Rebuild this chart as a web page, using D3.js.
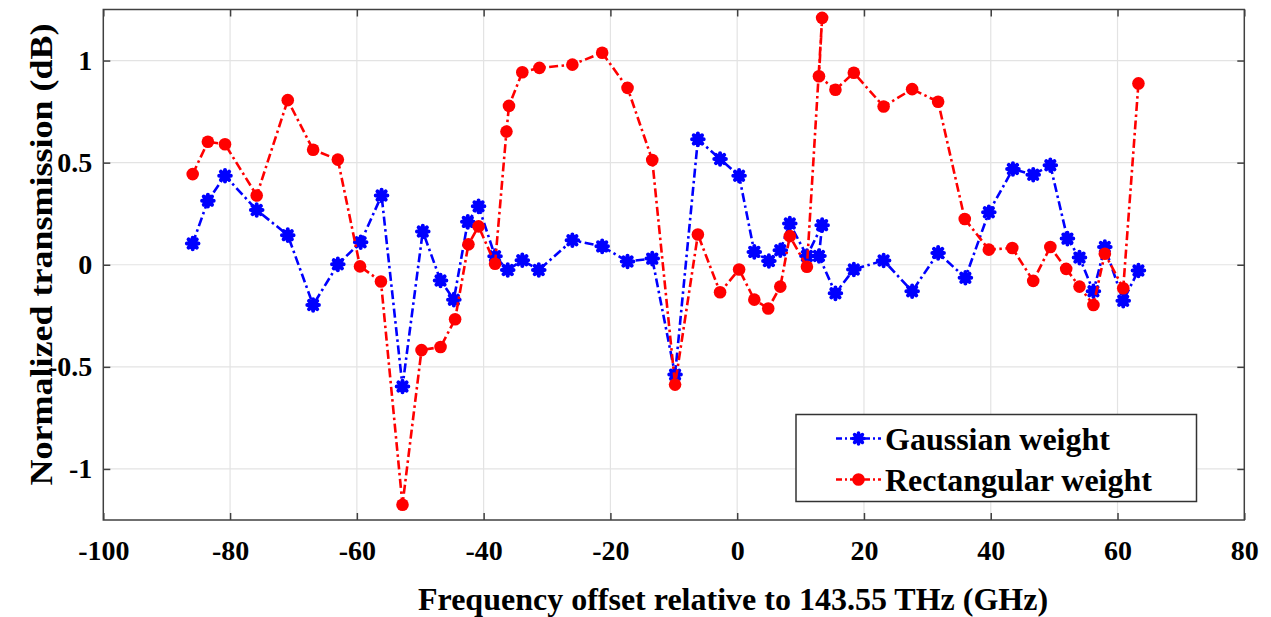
<!DOCTYPE html>
<html>
<head>
<meta charset="utf-8">
<script src="https://cdn.jsdelivr.net/npm/d3@7"></script>
<style>
  body { margin: 0; background: #fff; }
  text { font-family: "Liberation Serif", "Times New Roman", serif; font-weight: bold; fill: #000; }
</style>
</head>
<body>
<svg id="chart" width="1271" height="617"></svg>
<script>
// values
var gaussX = [-85.9, -83.5, -80.8, -75.8, -70.9, -66.9, -63.0, -59.4, -56.1, -52.8, -49.6, -46.8, -44.7,
    -42.5, -40.8, -38.2, -36.2, -33.9, -31.3, -26.0, -21.3, -17.3, -13.4, -9.8, -6.2, -2.7, 0.3, 2.7, 5.0,
    6.8, 8.3, 11.0, 13.4, 12.9, 15.5, 18.4, 23.1, 27.6, 31.7, 36.0, 39.7, 43.5, 46.7, 49.4, 52.1, 54.0,
    56.2, 58.0, 60.9, 63.3];
var gaussY = [0.104, 0.314, 0.436, 0.268, 0.145, -0.197, 0.002, 0.11, 0.339, -0.596, 0.163, -0.077, -0.171,
    0.21, 0.286, 0.042, -0.026, 0.022, -0.026, 0.12, 0.09, 0.016, 0.03, -0.538, 0.614, 0.518, 0.436, 0.063, 0.018,
    0.071, 0.202, 0.043, 0.194, 0.043, -0.14, -0.023, 0.021, -0.13, 0.058, -0.064, 0.257, 0.469, 0.441, 0.487,
    0.128, 0.035, -0.13, 0.087, -0.176, -0.028];

var rectX = [-85.9, -83.5, -80.8, -75.8, -70.9, -66.9, -63.0, -59.5, -56.2, -52.8, -49.8, -46.8, -44.5,
    -42.4, -40.8, -38.2, -36.4, -36.0, -33.9, -31.2, -26.0, -21.3, -17.3, -13.4, -9.8, -6.2, -2.7, 0.3, 2.7,
    4.9, 6.8, 8.3, 11.0, 13.4, 12.9, 15.5, 18.4, 23.1, 27.6, 31.7, 35.9, 39.7, 43.4, 46.7, 49.4, 51.9, 54.0,
    56.2, 58.0, 60.9, 63.3];
var rectY = [0.444, 0.602, 0.59, 0.339, 0.806, 0.563, 0.515, -0.008, -0.082, -1.175, -0.418, -0.403, -0.267,
    0.10, 0.188, 0.005, 0.652, 0.778, 0.943, 0.964, 0.98, 1.038, 0.866, 0.513, -0.587, 0.148, -0.135, -0.023,
    -0.171, -0.214, -0.107, 0.14, -0.01, 1.209, 0.923, 0.857, 0.94, 0.775, 0.86, 0.798, 0.224, 0.074, 0.082,
    -0.079, 0.087, -0.02, -0.107, -0.197, 0.054, -0.115, 0.888];

var xTicks = [-100, -80, -60, -40, -20, 0, 20, 40, 60, 80];
var yTicks = [-1, -0.5, 0, 0.5, 1];
var seriesNames = ["Gaussian weight", "Rectangular weight"];

var svg = d3.select("#chart"),
    plotLeft = 103.3, plotRight = 1244.3, plotTop = 9.5, plotBottom = 520;

var x = d3.scaleLinear().domain([-100, 80]).range([plotLeft, plotRight]);
var y = d3.scaleLinear().domain([-1.25, 1.25]).range([plotBottom, plotTop]);

var axisColor = "#404040";

// grid
svg.append("g").selectAll("line")
    .data(xTicks.slice(1, -1))
    .enter().append("line")
    .attr("x1", function(d) { return x(d); }).attr("x2", function(d) { return x(d); })
    .attr("y1", plotTop).attr("y2", plotBottom)
    .attr("stroke", "#e3e3e3").attr("stroke-width", 1.2);

svg.append("g").selectAll("line")
    .data(yTicks)
    .enter().append("line")
    .attr("x1", plotLeft).attr("x2", plotRight)
    .attr("y1", function(d) { return y(d); }).attr("y2", function(d) { return y(d); })
    .attr("stroke", "#e3e3e3").attr("stroke-width", 1.2);

// axes (ticks pointing inward, on all four sides)
function styleAxis(g) {
    g.select(".domain").remove();
    g.selectAll(".tick line").attr("stroke", axisColor).attr("stroke-width", 1.5);
    g.selectAll(".tick text")
        .style("font-family", "'Liberation Serif', 'Times New Roman', serif")
        .style("font-weight", "bold")
        .attr("fill", "#000");
}

svg.append("g")
    .attr("transform", "translate(0," + plotBottom + ")")
    .call(d3.axisBottom(x).tickValues(xTicks).tickSizeInner(-7).tickSizeOuter(0).tickPadding(20)
        .tickFormat(function(d) { return String(d); }))
    .call(styleAxis)
    .selectAll(".tick text").attr("font-size", 28);

svg.append("g")
    .attr("transform", "translate(0," + plotTop + ")")
    .call(d3.axisTop(x).tickValues(xTicks).tickSizeInner(-7).tickSizeOuter(0).tickFormat(""))
    .call(styleAxis);

svg.append("g")
    .attr("transform", "translate(" + plotLeft + ",0)")
    .call(d3.axisLeft(y).tickValues(yTicks).tickSizeInner(-7).tickSizeOuter(0).tickPadding(11)
        .tickFormat(function(d) { return String(d); }))
    .call(styleAxis)
    .selectAll(".tick text").attr("font-size", 28);

svg.append("g")
    .attr("transform", "translate(" + plotRight + ",0)")
    .call(d3.axisRight(y).tickValues(yTicks).tickSizeInner(-7).tickSizeOuter(0).tickFormat(""))
    .call(styleAxis);

svg.append("rect")
    .attr("x", plotLeft).attr("y", plotTop)
    .attr("width", plotRight - plotLeft).attr("height", plotBottom - plotTop)
    .attr("fill", "none").attr("stroke", axisColor).attr("stroke-width", 1.5);

// series
var gaussData = gaussX.map(function(d, i) { return [d, gaussY[i]]; });
var rectData = rectX.map(function(d, i) { return [d, rectY[i]]; });

var line = d3.line()
    .x(function(d) { return x(d[0]); })
    .y(function(d) { return y(d[1]); });

var dash = "9,3.5,2.5,3.5";

// asterisk marker like matlab '*'
function starPath(r) {
    var p = "";
    for (var k = 0; k < 4; k++) {
        var a = k * Math.PI / 4;
        var dx = r * Math.cos(a), dy = r * Math.sin(a);
        p += "M" + (-dx) + "," + (-dy) + "L" + dx + "," + dy;
    }
    return p;
}

svg.append("path")
    .datum(gaussData)
    .attr("d", line)
    .attr("fill", "none").attr("stroke", "#0000ff").attr("stroke-width", 2.6)
    .attr("stroke-dasharray", dash);

svg.append("g").selectAll("path")
    .data(gaussData)
    .enter().append("path")
    .attr("transform", function(d) { return "translate(" + x(d[0]) + "," + y(d[1]) + ")"; })
    .attr("d", starPath(5.8))
    .attr("stroke", "#0000ff").attr("stroke-width", 4).attr("stroke-linecap", "round");

svg.append("path")
    .datum(rectData)
    .attr("d", line)
    .attr("fill", "none").attr("stroke", "#ff0000").attr("stroke-width", 2.6)
    .attr("stroke-dasharray", dash);

svg.append("g").selectAll("circle")
    .data(rectData)
    .enter().append("circle")
    .attr("cx", function(d) { return x(d[0]); })
    .attr("cy", function(d) { return y(d[1]); })
    .attr("r", 6.3)
    .attr("fill", "#ff0000");

// axis titles
svg.append("text")
    .attr("x", 733)
    .attr("y", 610)
    .attr("text-anchor", "middle")
    .attr("font-size", 32)
    .text("Frequency offset relative to 143.55 THz (GHz)");

svg.append("text")
    .attr("transform", "translate(52,254.5) rotate(-90)")
    .attr("text-anchor", "middle")
    .attr("font-size", 32)
    .attr("textLength", 462)
    .attr("lengthAdjust", "spacingAndGlyphs")
    .text("Normalized transmission (dB)");

// legend
var legend = svg.append("g");
legend.append("rect")
    .attr("x", 796).attr("y", 414.5)
    .attr("width", 400.5).attr("height", 87)
    .attr("fill", "#fff").attr("stroke", "#333").attr("stroke-width", 1.5);

var rows = legend.selectAll("g")
    .data(seriesNames)
    .enter().append("g")
    .attr("transform", function(d, i) { return "translate(0," + (438.5 + i * 41) + ")"; });

rows.append("line")
    .attr("x1", 836).attr("x2", 881).attr("y1", 0).attr("y2", 0)
    .attr("stroke", function(d, i) { return i === 0 ? "#0000ff" : "#ff0000"; })
    .attr("stroke-width", 2.6)
    .attr("stroke-dasharray", "6,3,2,3");

rows.filter(function(d, i) { return i === 0; }).append("path")
    .attr("transform", "translate(858.5,0)")
    .attr("d", starPath(5.5))
    .attr("stroke", "#0000ff").attr("stroke-width", 3.6).attr("stroke-linecap", "round");

rows.filter(function(d, i) { return i === 1; }).append("circle")
    .attr("cx", 858.5).attr("cy", 0).attr("r", 6.3)
    .attr("fill", "#ff0000");

rows.append("text")
    .attr("x", 885)
    .attr("y", 11)
    .attr("font-size", 32)
    .text(function(d) { return d; });
</script>
</body>
</html>
